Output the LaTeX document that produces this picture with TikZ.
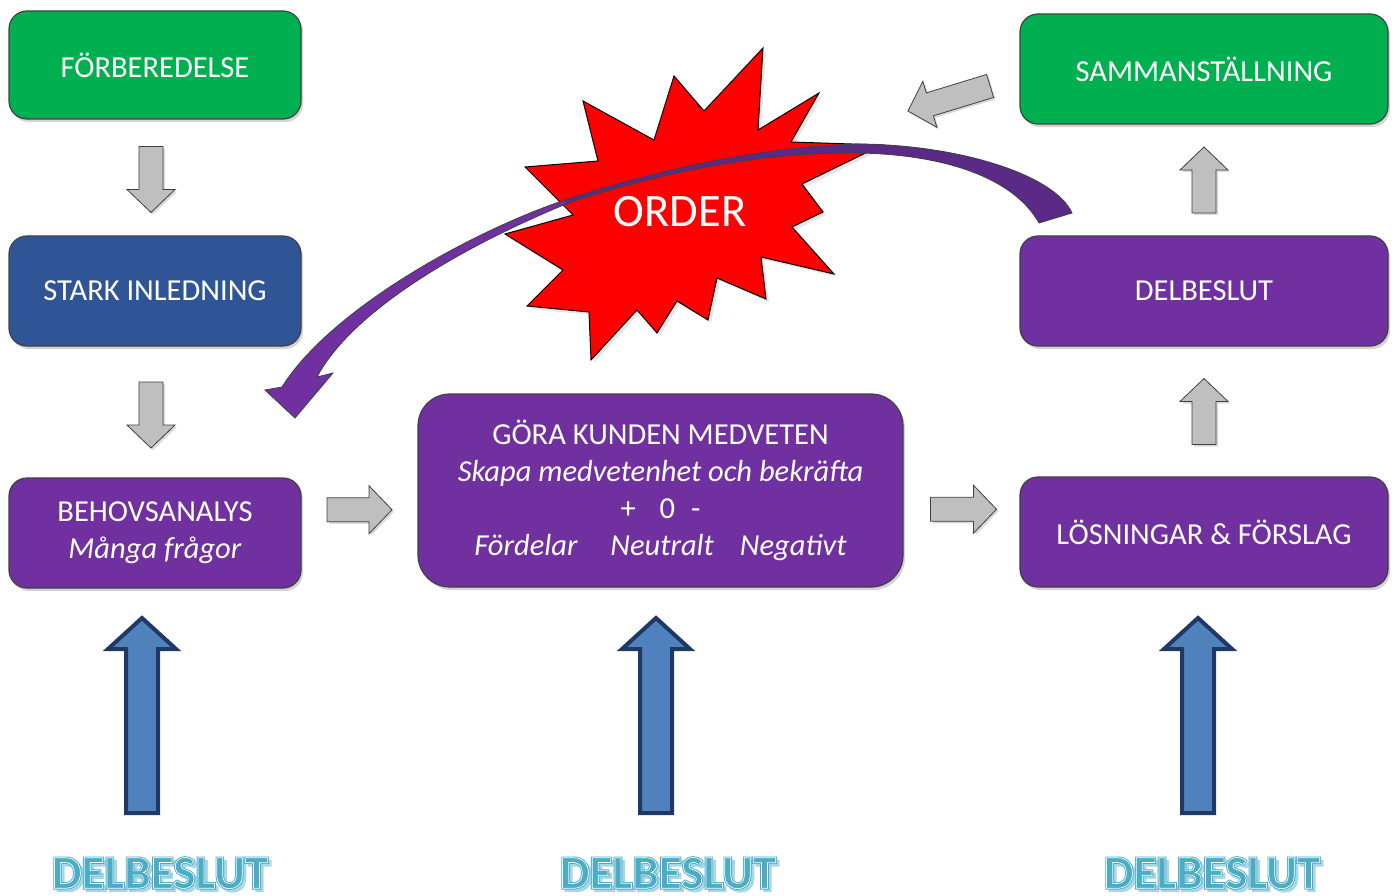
\documentclass[tikz,border=0pt]{standalone}
\usepackage{fontspec}
\setmainfont{Carlito}
\usetikzlibrary{shadows,calc}

\definecolor{boxgreen}{HTML}{00B050}
\definecolor{boxblue}{HTML}{2F5597}
\definecolor{boxpurple}{HTML}{7030A0}
\definecolor{ribbondark}{HTML}{5B2A86}
\definecolor{edgegray}{HTML}{404040}
\definecolor{arrowgray}{HTML}{BFBFBF}
\definecolor{arrowblue}{HTML}{4F81BD}
\definecolor{arrownavy}{HTML}{1F3864}
\definecolor{labelblue}{HTML}{4BACC6}
\definecolor{labelshade}{HTML}{A9D8E5}
\definecolor{burstred}{HTML}{FF0000}

% text drawn with a given PDF render mode, stroke width and stroke colour
\newcommand\rendertext[4]{\special{pdf:literal direct #1 Tr #2 w #3 RG}#4\special{pdf:literal direct 0 Tr}}

% grey block arrow: centre, rotation, length
\newcommand\grayarrow[3]{%
  \draw[grayarrowstyle, shift={#1}, rotate=#2]
    (-#3/2,-12) -- (#3/2-23,-12) -- (#3/2-23,-24) -- (#3/2,0)
    -- (#3/2-23,24) -- (#3/2-23,12) -- (-#3/2,12) -- cycle;}

% tall blue block arrow pointing up, centred at x = #1
\newcommand\bluearrow[1]{%
  \draw[bluearrowstyle] (#1,618) -- (#1+34,649) -- (#1+16,649) -- (#1+16,813)
    -- (#1-16,813) -- (#1-16,649) -- (#1-34,649) -- cycle;}

% outlined label with a soft offset copy behind it
\newcommand\outlinelabel[2]{%
  \node[outlinetext, text=labelshade] at ($#2+(3,3)$)
    {\rendertext{2}{2}{0.663 0.847 0.898}{DELBESLUT}};
  \node[outlinetext, text=labelblue] (#1) at #2
    {\rendertext{2}{2.5}{0.294 0.675 0.776}{DELBESLUT}};
  \node[outlinetext, text=white] at #2
    {\rendertext{1}{0.7}{1 1 1}{DELBESLUT}};}

\tikzset{
  stage/.style={rectangle, draw=edgegray, line width=1.2pt, text=white,
    font=\fontsize{30.5}{37}\selectfont, align=center, inner sep=0pt,
    drop shadow={opacity=0.35, shadow xshift=2pt, shadow yshift=-3pt}},
  smallstage/.style={stage, rounded corners=18pt, minimum height=110pt},
  leftstage/.style={smallstage, minimum width=292pt},
  rightstage/.style={smallstage, minimum width=368pt},
  grayarrowstyle/.style={fill=arrowgray, draw=edgegray, line width=0.8pt,
    line join=miter, drop shadow={opacity=0.3, shadow xshift=2pt, shadow yshift=-2pt}},
  bluearrowstyle/.style={fill=arrowblue, draw=arrownavy, line width=4pt, line join=miter},
  outlinetext/.style={inner sep=0pt, font=\fontsize{47}{50}\selectfont\bfseries},
  ribbonedge/.style={draw=edgegray, line width=0.8pt},
}

\begin{document}
\begin{tikzpicture}[x=1pt, y=-1pt]
\useasboundingbox (0,0) rectangle (1395,896);

% process stages
\node[leftstage, fill=boxgreen, minimum height=108pt] (prep) at (155,65) {FÖRBEREDELSE};
\node[leftstage, fill=boxblue] (intro) at (155,291) {STARK INLEDNING};
\node[leftstage, fill=boxpurple] (needs) at (155,533) {BEHOVSANALYS\\\textit{Många frågor}};
\node[stage, fill=boxpurple, rounded corners=32pt, minimum width=485pt, minimum height=193pt]
  (aware) at (660.5,490.5)
  {GÖRA KUNDEN MEDVETEN\\
   \textit{Skapa medvetenhet och bekräfta}\\
   +\hspace{24pt}0\hspace{16pt}-\\
   \textit{Fördelar\hspace{33pt}Neutralt\hspace{26pt}Negativt}};
\node[rightstage, fill=boxpurple] (solutions) at (1204,532) {LÖSNINGAR \& FÖRSLAG};
\node[rightstage, fill=boxpurple] (partial) at (1204,291) {DELBESLUT};
\node[rightstage, fill=boxgreen] (summary) at (1204,69) {SAMMANSTÄLLNING};

% grey step arrows between the stages
\coordinate (g1) at ($(prep.south)!0.5!(intro.north)+(-4,2)$);
\coordinate (g2) at ($(intro.south)!0.5!(needs.north)+(-4,3)$);
\coordinate (g3) at ($(needs.east)!0.5!(aware.west)+(0,-2)$);
\coordinate (g4) at ($(aware.east)!0.5!(solutions.west)+(2,-2)$);
\coordinate (g5) at ($(solutions.north)!0.5!(partial.south)$);
\coordinate (g6) at ($(partial.north)!0.5!(summary.south)$);
\coordinate (g7) at (949,98.5);
\grayarrow{(g1)}{-90}{66}
\grayarrow{(g2)}{-90}{66}
\grayarrow{(g3)}{0}{65}
\grayarrow{(g4)}{0}{66}
\grayarrow{(g5)}{90}{66}
\grayarrow{(g6)}{90}{66}
\grayarrow{(g7)}{197}{86}

% starburst
\draw[fill=burstred, draw=black, line width=1pt, line join=miter,
      drop shadow={opacity=0.2, shadow xshift=3pt, shadow yshift=-3pt}]
  (763,48) -- (758,130) -- (819,93) -- (791,142) -- (882,145) -- (802,184)
  -- (823,212) -- (792,227) -- (834,274) -- (761,257) -- (766,299) -- (717,278)
  -- (708,320) -- (677,301) -- (657,333) -- (637,310) -- (591,360) -- (589,312)
  -- (527,306) -- (563,270) -- (505,234) -- (573,215) -- (525,167) -- (598,161)
  -- (583,101) -- (654,140) -- (674,76) -- (704,111) -- cycle;

% curved ribbon arrow from the decision back to the needs analysis
\draw[ribbonedge, fill=ribbondark]
  (566,204) .. controls (650,175) and (760,151) .. (860,153)
  .. controls (950,155) and (1015,180) .. (1039,223) -- (1072,213)
  .. controls (1055,175) and (960,145) .. (860,144)
  .. controls (760,146) and (650,172) .. (565,200) -- cycle;
\draw[ribbonedge, fill=boxpurple]
  (565,200) .. controls (470,232) and (330,310) .. (282,387)
  -- (265,390) -- (295,418) -- (333,373) -- (317,377)
  .. controls (350,315) and (450,252) .. (566,204) -- cycle;

\node[text=white, font=\fontsize{46.5}{50}\selectfont, inner sep=0pt] (order) at (680,212) {ORDER};

% blue arrows rising from the partial decisions
\bluearrow{142}
\bluearrow{656}
\bluearrow{1198}

% partial decision labels
\outlinelabel{d1}{(160,873)}
\outlinelabel{d2}{(668,873)}
\outlinelabel{d3}{(1212,873)}
\end{tikzpicture}
\end{document}
